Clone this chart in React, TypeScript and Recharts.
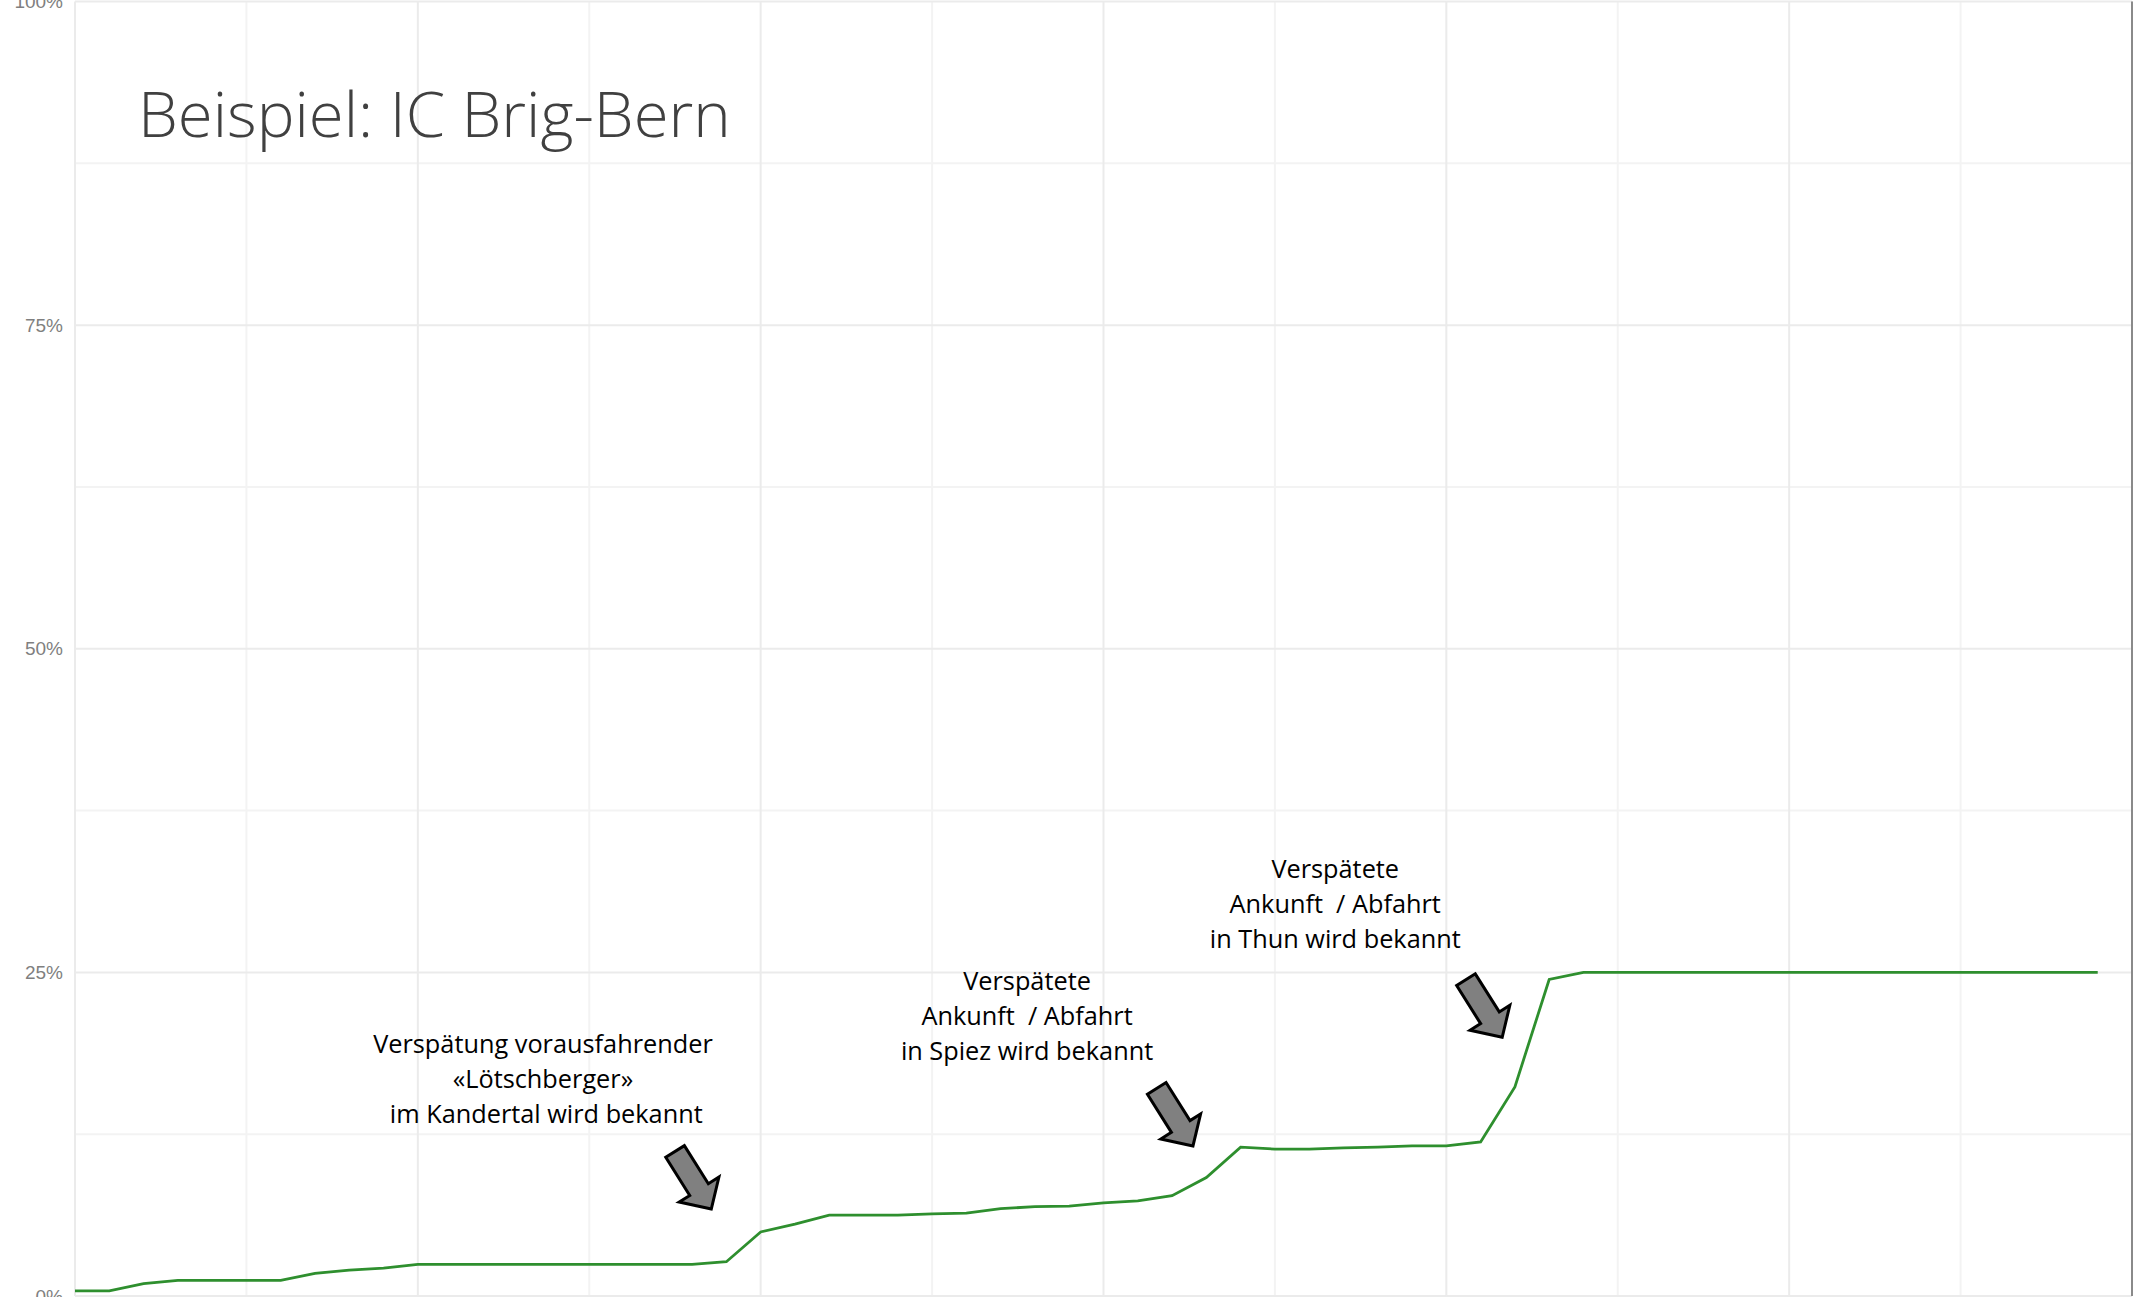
import React from 'react';
import { LineChart, Line, XAxis, YAxis, ReferenceLine, ReferenceDot } from 'recharts';

// share of delayed-known arrivals (in %) at each step along the run Brig -> Bern
const shareKnown = [
  0.4, 0.4, 0.95, 1.2, 1.2, 1.2, 1.2, 1.75, 2.0, 2.15,
  2.45, 2.45, 2.45, 2.45, 2.45, 2.45, 2.45, 2.45, 2.45, 2.65,
  4.95, 5.55, 6.25, 6.25, 6.25, 6.35, 6.4, 6.75, 6.9, 6.95,
  7.2, 7.35, 7.75, 9.15, 11.5, 11.35, 11.35, 11.45, 11.5, 11.6,
  11.6, 11.9, 16.15, 24.45, 25, 25, 25, 25, 25, 25,
  25, 25, 25, 25, 25, 25, 25, 25, 25, 25,
];

const yTicks = [0, 25, 50, 75, 100];
const yTickLabels = ['0%', '25%', '50%', '75%', '100%'];
const yMinorGrid = [12.5, 37.5, 62.5, 87.5];
const xMajorGrid = [0, 10, 20, 30, 40, 50, 60];
const xMinorGrid = [5, 15, 25, 35, 45, 55];

const noteTexts = [
  ['Verspätung vorausfahrender', '«Lötschberger»', ' im Kandertal wird bekannt'],
  ['Verspätete', 'Ankunft  / Abfahrt', 'in Spiez wird bekannt'],
  ['Verspätete', 'Ankunft  / Abfahrt', 'in Thun wird bekannt'],
];
// anchors in data units (step, %): centre of first text line baseline
const noteX = [13.65, 27.77, 36.76];
const noteY = [18.8, 23.65, 32.3];
// arrow tips in data units
const arrowX = [18.56, 32.61, 41.63];
const arrowY = [6.72, 11.59, 19.99];

const data = shareKnown.map((v, i) => ({ step: i, value: v }));

const renderArrow = (props: any) => {
  const { cx, cy } = props;
  return (
    <polygon
      points="0,0 -23,23.5 -23,11 -68,11 -68,-11 -23,-11 -23,-23.5"
      transform={`translate(${cx},${cy}) rotate(57.8)`}
      fill="#808080"
      stroke="#000"
      strokeWidth={3}
    />
  );
};

const renderNote = (lines: string[]) => (props: any) => (
  <text
    x={props.cx}
    y={props.cy}
    textAnchor="middle"
    fontFamily="'Open Sans', sans-serif"
    fontSize={25.3}
    fill="#000"
    style={{ whiteSpace: 'pre' }}
  >
    {lines.map((l, k) => (
      <tspan key={k} x={props.cx} dy={k === 0 ? 0 : 35}>
        {l}
      </tspan>
    ))}
  </text>
);

export default function App() {
  return (
    <div style={{ position: 'absolute', left: 0, top: 0, width: 2133, height: 1297, background: '#fff' }}>
      <LineChart width={2133} height={1297} data={data} margin={{ top: 1.5, right: 1, bottom: 1, left: 0 }}>
        <XAxis dataKey="step" type="number" domain={[0, 60]} hide />
        <YAxis
          type="number"
          domain={[0, 100]}
          ticks={yTicks}
          interval={0}
          tickFormatter={(v: number) => yTickLabels[yTicks.indexOf(v)]}
          width={75}
          axisLine={false}
          tickLine={false}
          tickSize={0}
          tickMargin={12}
          tick={{ fill: '#7f7f7f', fontSize: 19, fontFamily: "'Liberation Sans', Arial, sans-serif" }}
        />
        {yMinorGrid.map((y) => (
          <ReferenceLine key={'ym' + y} y={y} stroke="#f3f3f3" strokeWidth={2} />
        ))}
        {xMinorGrid.map((x) => (
          <ReferenceLine key={'xm' + x} x={x} stroke="#f3f3f3" strokeWidth={2} />
        ))}
        {yTicks.map((y) => (
          <ReferenceLine key={'yM' + y} y={y} stroke="#ebebeb" strokeWidth={2} />
        ))}
        {xMajorGrid.map((x) => (
          <ReferenceLine key={'xM' + x} x={x} stroke="#ebebeb" strokeWidth={2} />
        ))}
        <ReferenceLine x={60} stroke="#8a8a8a" strokeWidth={2} />
        <Line
          type="linear"
          dataKey="value"
          stroke="#2e8f2e"
          strokeWidth={2.8}
          dot={false}
          activeDot={false}
          isAnimationActive={false}
        />
        {arrowX.map((x, k) => (
          <ReferenceDot key={'a' + k} x={x} y={arrowY[k]} r={1} shape={renderArrow} />
        ))}
        {noteX.map((x, k) => (
          <ReferenceDot key={'n' + k} x={x} y={noteY[k]} r={1} shape={renderNote(noteTexts[k])} />
        ))}
      </LineChart>
      <svg width={2133} height={1297} style={{ position: 'absolute', left: 0, top: 0, pointerEvents: 'none' }}>
        <text x={138} y={137} fontFamily="'Open Sans', sans-serif" fontWeight={300} fontSize={63.5} fill="#404040">
          Beispiel: IC Brig-Bern
        </text>
      </svg>
    </div>
  );
}
